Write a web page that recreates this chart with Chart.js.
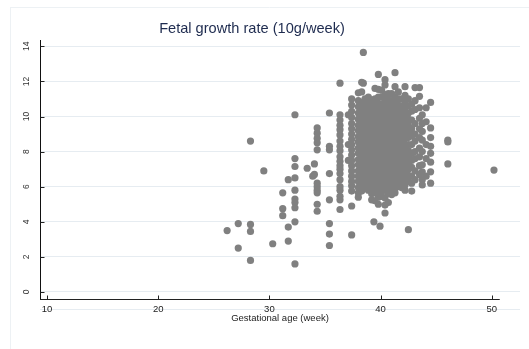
<!DOCTYPE html>
<html>
<head>
<meta charset="utf-8">
<script src="https://cdn.jsdelivr.net/npm/chart.js@4.4.1/dist/chart.umd.min.js"></script>
<style>
  html, body { margin: 0; padding: 0; background: #fff; }
</style>
</head>
<body>
<canvas id="myChart" width="529" height="349"></canvas>
<script>
const chartTitle = "Fetal growth rate (10g/week)";
const xTitle = "Gestational age (week)";
const xTicks = [10, 20, 30, 40, 50];
const yTicks = [0, 2, 4, 6, 8, 10, 12, 14];

// gestational age (week) of each column of points
const ageWeeks = [26.2, 27.2, 28.3, 29.5, 30.3, 31.2, 31.7, 32.3, 33.4, 33.9, 34.05, 34.3,
  35.4, 36.35, 37.1, 37.4, 38.0, 38.3, 38.45, 38.6, 38.9, 39.2, 39.4, 39.5, 39.8, 39.95,
  40.1, 40.4, 40.7, 41.0, 41.3, 41.6, 41.9, 42.2, 42.5, 42.8, 43.1, 43.5, 43.75, 44.1,
  44.5, 46.05, 50.2];

// growth rate values (10g/week) read for each column above
const growthRates = [
  [3.5],
  [3.9, 2.5],
  [8.6, 3.85, 3.45, 1.8],
  [6.9],
  [2.75],
  [5.65, 4.75, 4.35],
  [6.4, 3.7, 2.9],
  [10.1, 7.6, 7.15, 6.5, 5.8, 5.3, 5.1, 4.8, 4.0, 1.6],
  [7.05],
  [6.6],
  [7.3, 6.7],
  [9.35, 9.05, 8.75, 8.5, 8.1, 6.2, 6.0, 5.8, 5.65, 5.0, 4.6],
  [10.2, 8.3, 8.1, 6.75, 5.25, 3.9, 3.3, 2.65],
  [11.9, 10.1, 9.8, 9.5, 9.25, 8.95, 8.6, 8.3, 8.05, 7.7, 7.45, 7.2, 7.0, 6.75, 6.4, 6.0, 5.8, 5.45, 5.25, 4.7],
  [10.1, 8.4, 7.5],
  [11.0, 10.65, 10.3, 9.95, 9.6, 9.3, 9.0, 8.7, 8.4, 8.1, 7.8, 7.5, 7.2, 6.9, 6.6, 6.3, 6.05, 5.75, 4.9, 3.25],
  [11.35, 10.9, 10.55, 10.2, 9.85, 9.5, 9.2, 8.85, 8.55, 8.2, 7.9, 7.55, 7.25, 6.9, 6.6, 6.3, 5.95, 5.65, 5.4],
  [11.95, 11.4, 10.8, 10.45, 10.1, 9.75, 9.4, 9.1, 8.75, 8.4, 8.1, 7.75, 7.4, 7.1, 6.75, 6.45, 6.1, 5.75],
  [13.65, 11.9],
  [11.0, 10.65, 10.3, 9.95, 9.6, 9.3, 8.95, 8.6, 8.3, 7.95, 7.6, 7.3, 6.95, 6.65, 6.3, 6.0],
  [11.1, 10.75, 10.4, 10.05, 9.7, 9.4, 9.05, 8.7, 8.4, 8.05, 7.7, 7.4, 7.05, 6.75, 6.4, 6.1, 5.8],
  [10.95, 10.6, 10.25, 9.9, 9.55, 9.25, 8.9, 8.55, 8.25, 7.9, 7.55, 7.25, 6.9, 6.6, 6.25, 5.95, 5.6, 5.25],
  [4.0],
  [11.6, 11.0, 10.65, 10.3, 9.95, 9.6, 9.3, 8.95, 8.6, 8.3, 7.95, 7.6, 7.3, 6.95, 6.65, 6.3, 6.0, 5.65, 5.2],
  [12.4, 11.55, 11.1, 10.75, 10.4, 10.05, 9.7, 9.4, 9.05, 8.7, 8.4, 8.05, 7.7, 7.4, 7.05, 6.75, 6.4, 6.1, 5.75, 5.4, 5.0],
  [3.75],
  [11.5, 11.1, 10.7, 10.35, 10.0, 9.65, 9.35, 9.0, 8.65, 8.35, 8.0, 7.65, 7.35, 7.0, 6.7, 6.35, 6.05, 5.7, 5.45],
  [12.1, 11.8, 11.25, 10.9, 10.55, 10.2, 9.85, 9.5, 9.2, 8.85, 8.5, 8.2, 7.85, 7.5, 7.2, 6.85, 6.55, 6.2, 5.9, 5.35, 4.95, 4.5],
  [11.3, 10.95, 10.6, 10.25, 9.9, 9.55, 9.25, 8.9, 8.55, 8.25, 7.9, 7.55, 7.25, 6.9, 6.6, 6.25, 5.95, 5.6, 5.1],
  [11.3, 10.9, 10.55, 10.2, 9.85, 9.5, 9.2, 8.85, 8.5, 8.2, 7.85, 7.5, 7.2, 6.85, 6.55, 6.2, 5.9, 5.55],
  [12.5, 11.7, 11.1, 10.75, 10.4, 10.05, 9.7, 9.4, 9.05, 8.7, 8.4, 8.05, 7.7, 7.4, 7.05, 6.75, 6.4, 6.1, 5.9, 5.65],
  [11.4, 11.0, 10.65, 10.3, 9.95, 9.6, 9.3, 8.95, 8.6, 8.3, 7.95, 7.6, 7.3, 6.95, 6.65, 6.3, 6.0],
  [11.0, 10.6, 10.25, 9.9, 9.55, 9.25, 8.9, 8.55, 8.25, 7.9, 7.55, 7.25, 6.9, 6.6, 6.25, 5.95],
  [11.7, 11.2, 10.8, 10.45, 10.1, 9.75, 9.4, 9.1, 8.75, 8.4, 8.1, 7.75, 7.4, 7.1, 6.75, 6.45, 6.1, 5.8],
  [11.0, 10.6, 10.2, 9.85, 9.5, 9.1, 8.8, 8.4, 8.05, 7.7, 7.35, 7.0, 6.65, 6.3, 3.55],
  [10.7, 10.3, 9.8, 9.3, 8.9, 8.4, 7.9, 7.5, 7.1, 6.6, 6.2, 5.75],
  [11.65, 10.9, 10.4, 9.6, 9.0, 8.6, 8.0, 7.6, 6.9, 6.4],
  [11.65, 11.15, 10.5, 9.9, 9.3, 8.8, 8.2, 7.7, 7.2, 6.7],
  [10.1, 9.6, 9.15, 8.65, 8.0, 7.25, 6.85, 6.4, 6.1],
  [10.5, 9.7, 8.4, 7.6, 6.6],
  [10.8, 9.35, 8.8, 8.3, 7.9, 7.4, 6.85, 6.2],
  [8.65, 8.55, 7.3],
  [6.95]
];

const ctx = document.getElementById("myChart").getContext("2d");

// build scatter points from the columns
const points = [];
for (let i = 0; i < ageWeeks.length; i++) {
  growthRates[i].forEach((r) => points.push({ x: ageWeeks[i], y: r }));
}

const FONT = '"Liberation Sans", Arial, Helvetica, sans-serif';

// frame, title, inward ticks and the short x axis line (Stata look)
const stataLook = {
  id: "stataLook",
  beforeDraw(chart) {
    const c = chart.ctx;
    const area = chart.chartArea;
    c.save();
    c.fillStyle = "#fff";
    c.fillRect(0, 0, chart.width, chart.height);
    c.strokeStyle = "#edf1f4";
    c.lineWidth = 1;
    c.beginPath();
    c.moveTo(10.5, 8);
    c.lineTo(10.5, chart.height);
    c.moveTo(10, 7.5);
    c.lineTo(chart.width, 7.5);
    c.stroke();
    c.strokeStyle = "#e6ecf1";
    c.beginPath();
    c.moveTo(area.left, 309.5);
    c.lineTo(area.right, 309.5);
    c.stroke();
    c.restore();
  },
  afterDraw(chart) {
    const c = chart.ctx;
    const area = chart.chartArea;
    const xs = chart.scales.x;
    const ys = chart.scales.y;
    c.save();
    c.strokeStyle = "#222";
    c.lineWidth = 1;
    c.beginPath();
    const yb = Math.round(area.bottom) + 0.5;
    c.moveTo(area.left, yb);
    c.lineTo(xs.getPixelForValue(50.72), yb);
    xTicks.forEach((v) => {
      const px = Math.round(xs.getPixelForValue(v)) + 0.5;
      c.moveTo(px, yb);
      c.lineTo(px, yb - 4);
    });
    const xl = Math.round(area.left) + 0.5;
    yTicks.forEach((v) => {
      const py = Math.round(ys.getPixelForValue(v)) + 0.5;
      c.moveTo(xl, py);
      c.lineTo(xl + 4, py);
    });
    c.stroke();
    c.fillStyle = "#1e2b4f";
    c.font = "14.6px " + FONT;
    c.textAlign = "center";
    c.textBaseline = "alphabetic";
    c.fillText(chartTitle, 252, 33);
    c.restore();
  }
};

new Chart(ctx, {
  type: "scatter",
  data: {
    datasets: [
      {
        label: chartTitle,
        data: points,
        backgroundColor: "rgb(128,128,128)",
        borderWidth: 0,
        pointRadius: 3.6,
        pointHoverRadius: 3.6
      }
    ]
  },
  options: {
    responsive: false,
    animation: false,
    events: [],
    layout: { padding: { left: 10, right: 9, top: 40, bottom: 20 } },
    plugins: {
      legend: { display: false },
      title: { display: false },
      tooltip: { enabled: false }
    },
    scales: {
      x: {
        type: "linear",
        min: 9.37,
        max: 52.54,
        afterBuildTicks: (s) => { s.ticks = xTicks.map((v) => ({ value: v })); },
        afterFit: (s) => { s.height = 30; },
        grid: { display: false, drawTicks: false },
        border: { display: false },
        ticks: { color: "#222", padding: 5, font: { family: FONT, size: 9.5 }, maxRotation: 0 },
        title: {
          display: true,
          text: xTitle,
          color: "#222",
          font: { family: FONT, size: 9.5, lineHeight: 1 },
          padding: { top: 0, bottom: 6 }
        }
      },
      y: {
        type: "linear",
        min: -0.4,
        max: 14.36,
        afterBuildTicks: (s) => { s.ticks = yTicks.map((v) => ({ value: v })); },
        afterFit: (s) => { s.width = 30; },
        grid: { color: "#e6ecf1", lineWidth: 1, drawTicks: false },
        border: { display: true, color: "#111", width: 1 },
        ticks: {
          color: "#333",
          padding: 9,
          crossAlign: "center",
          minRotation: 90,
          maxRotation: 90,
          font: { family: FONT, size: 8.5 }
        }
      }
    }
  },
  plugins: [stataLook]
});
</script>
</body>
</html>
